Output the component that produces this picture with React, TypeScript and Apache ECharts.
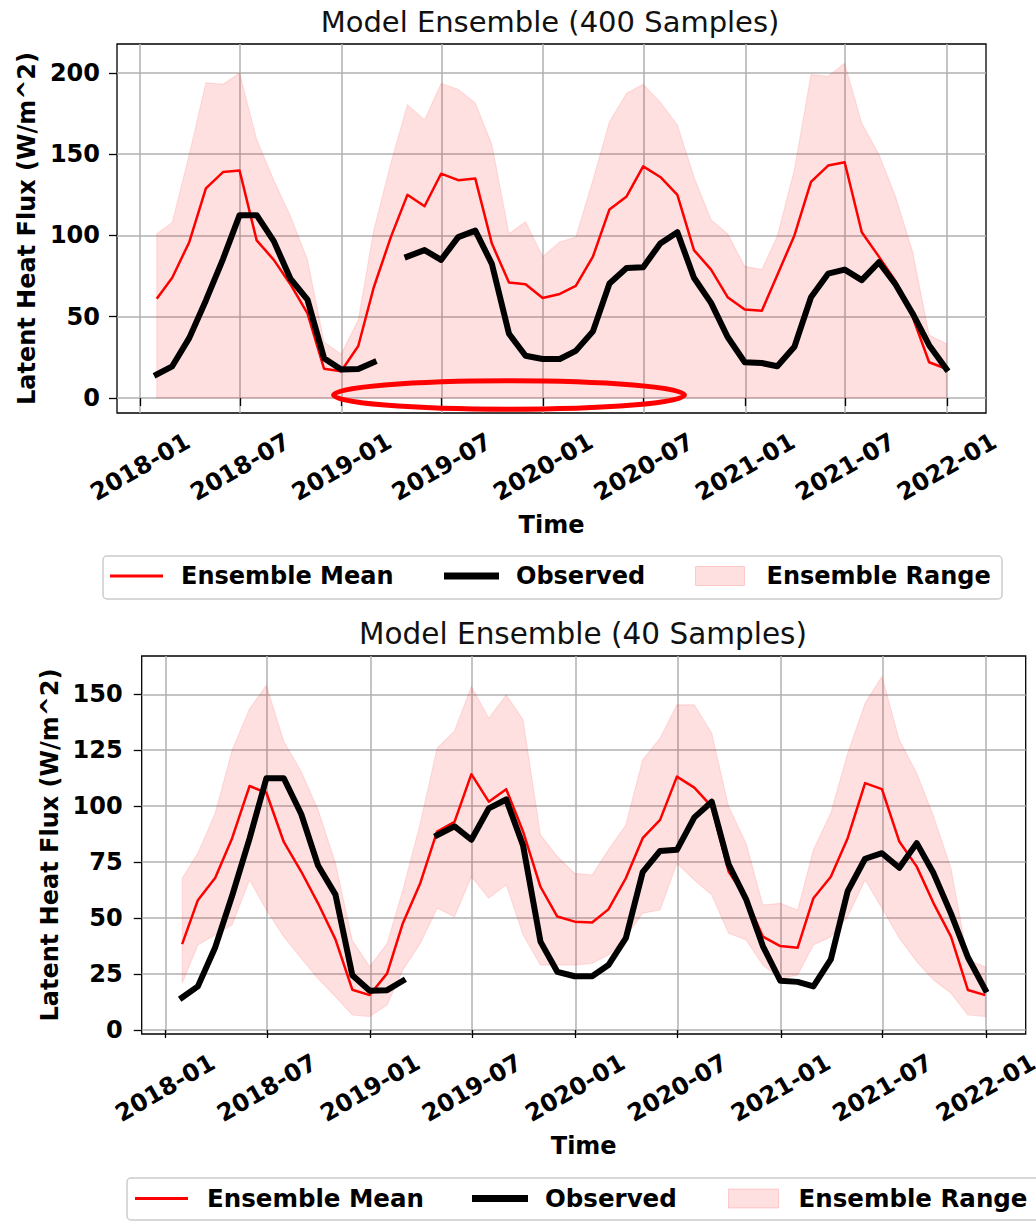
import React, { useEffect, useRef } from "react";
import * as echarts from "echarts";

// ---------- data ----------
const monthEnds = [
  "2018-01-31", "2018-02-28", "2018-03-31", "2018-04-30", "2018-05-31", "2018-06-30",
  "2018-07-31", "2018-08-31", "2018-09-30", "2018-10-31", "2018-11-30", "2018-12-31",
  "2019-01-31", "2019-02-28", "2019-03-31", "2019-04-30", "2019-05-31", "2019-06-30",
  "2019-07-31", "2019-08-31", "2019-09-30", "2019-10-31", "2019-11-30", "2019-12-31",
  "2020-01-31", "2020-02-29", "2020-03-31", "2020-04-30", "2020-05-31", "2020-06-30",
  "2020-07-31", "2020-08-31", "2020-09-30", "2020-10-31", "2020-11-30", "2020-12-31",
  "2021-01-31", "2021-02-28", "2021-03-31", "2021-04-30", "2021-05-31", "2021-06-30",
  "2021-07-31", "2021-08-31", "2021-09-30", "2021-10-31", "2021-11-30", "2021-12-31",
];

const tickDates = [
  "2018-01-01", "2018-07-01", "2019-01-01", "2019-07-01", "2020-01-01",
  "2020-07-01", "2021-01-01", "2021-07-01", "2022-01-01",
];

const observed: (number | null)[] = [
  14.5, 19.5, 37, 60, 85.5, 112.5, 112.5, 96.5, 73.5, 60.5, 24.5, 17.5,
  17.8, 22, null, 87, 91, 85, 99, 103, 82.5, 39.5, 26, 24,
  24, 29, 41, 70.5, 80, 80.5, 95, 102, 74, 58.5, 37.5, 22,
  21.5, 19.5, 31.5, 62, 76.5, 79, 72.5, 83.5, 70, 52, 32.5, 18,
];

// Model ensemble, 400 samples
const mean400 = [
  61, 74, 96, 129, 139, 140, 97, 85, 70, 52, 18, 16.5,
  32, 68, 99, 125, 118, 138, 134, 135, 95, 71, 70, 61.5,
  64, 69, 87, 116, 124, 142.5, 136, 125, 91, 79, 62, 54.5,
  53.7, 75.7, 100, 133, 143, 145, 102, 87, 72, 50, 22, 18,
];
const upper400 = [
  101, 108, 150, 194, 193, 200, 159, 134, 112, 85, 34.5, 27,
  48, 103, 144.5, 180.5, 171, 193.5, 190, 181.5, 156, 101, 108.5, 87,
  96, 99, 134, 170, 187.5, 193, 182, 168, 136, 109.6, 101, 81,
  79, 99.5, 140.6, 199, 198, 206, 169, 150, 124, 90, 38.7, 33.5,
];
const lower400 = [
  0, 0, 0, 0, 0, 0, 0, 0, 0, 0, 0, 0,
  0, 0, 0, 0, 0, 0, 0, 0, 0, 0, 0, 0,
  0, 0, 0, 0, 0, 0, 0, 0, 0, 0, 0, 0,
  0, 0, 0, 0, 0, 0, 0, 0, 0, 0, 0, 0,
];

// Model ensemble, 40 samples
const mean40 = [
  38.4, 58, 68, 85.7, 109, 106, 84, 70.8, 56.6, 40.5, 18, 15.6,
  25.3, 47.7, 65.6, 88.7, 93, 114.3, 102, 107.6, 88.7, 64, 50.7, 48.4,
  48, 53.9, 67.8, 85.7, 93.9, 113.2, 108.3, 99.8, 70.8, 58.9, 41.7, 37.5,
  36.8, 58.9, 68.5, 85.7, 110.3, 107.6, 84.2, 73, 56.6, 41.7, 17.9, 15.6,
];
const upper40 = [
  67.8, 79, 97, 125, 143.5, 154, 128.9, 115.5, 98.4, 74.5, 40, 28.3,
  38.7, 62.6, 92.4, 126, 133.6, 153.5, 139.3, 149.7, 138.6, 87.2, 77.5, 70,
  69.3, 80.5, 91.6, 120.7, 130.4, 145.3, 145.3, 132.6, 99.8, 83.4, 55.9, 56.6,
  53.6, 80.5, 96.9, 123.7, 146, 158, 129.6, 114.7, 95.4, 72.2, 31.3, 28.3,
];
const lower40 = [
  20.9, 38, 42.5, 47, 67, 53.6, 41.7, 32, 23, 14.9, 6.7, 6,
  11.2, 26.8, 38.7, 54.4, 50.6, 68.5, 58.9, 64.9, 42.5, 29, 29, 29,
  29.8, 33.5, 41.7, 52.2, 53.6, 74.5, 67, 60.3, 43.2, 40.2, 29, 23,
  24.6, 38, 41.7, 50.6, 67, 54.4, 41, 30.5, 22.3, 16.4, 6.7, 6,
];

const yTicks400 = [0, 50, 100, 150, 200];
const yTicks40 = [0, 25, 50, 75, 100, 125, 150];

const titles = ["Model Ensemble (400 Samples)", "Model Ensemble (40 Samples)"];
const legendNames = ["Ensemble Mean", "Observed", "Ensemble Range"];

// ---------- helpers ----------
const DAY = 86400000;
const ts = (s: string) => Date.parse(s + "T00:00:00Z");
const xs = monthEnds.map(ts);
const tickTs = tickDates.map(ts);
const xMin = xs[0] - 72 * DAY;
const xMax = xs[xs.length - 1] + 72 * DAY;
const pairs = (arr: (number | null)[]) => arr.map((v, i) => [xs[i], v]);
const fmt = (v: number) => {
  const d = new Date(v);
  return d.getUTCFullYear() + "-" + String(d.getUTCMonth() + 1).padStart(2, "0");
};

const FONT = "DejaVu Sans";
const RED = "#ff0000";
const BAND = "rgba(255,0,0,0.12)";
const BAND_EDGE = "rgba(255,0,0,0.10)";
const GRIDC = "#b0b0b0";

function mkX(idx: number) {
  return {
    type: "value",
    gridIndex: idx,
    min: xMin,
    max: xMax,
    name: "Time",
    nameLocation: "middle",
    nameGap: 100,
    nameTextStyle: { fontFamily: FONT, fontSize: 24, fontWeight: "bold", color: "#000" },
    axisLine: { show: false },
    axisTick: {
      show: true,
      customValues: tickTs,
      length: 8,
      lineStyle: { color: "#000", width: 1.3 },
    },
    axisLabel: {
      show: true,
      customValues: tickTs,
      formatter: (v: number) => fmt(v),
      rotate: 30,
      align: "center",
      verticalAlign: "middle",
      margin: 54,
      fontFamily: FONT,
      fontSize: 24,
      fontWeight: "bold",
      color: "#000",
      hideOverlap: false,
    },
    splitLine: { show: true, lineStyle: { color: GRIDC, width: 1.5 } },
  };
}

function mkY(idx: number, min: number, max: number, ticks: number[], gap: number, margin: number) {
  return {
    type: "value",
    gridIndex: idx,
    min,
    max,
    name: "Latent Heat Flux (W/m^2)",
    nameLocation: "middle",
    nameGap: gap,
    nameTextStyle: { fontFamily: FONT, fontSize: 24, fontWeight: "bold", color: "#000" },
    axisLine: { show: false },
    axisTick: {
      show: true,
      customValues: ticks,
      length: 8,
      lineStyle: { color: "#000", width: 1.3 },
    },
    axisLabel: {
      show: true,
      customValues: ticks,
      margin,
      fontFamily: FONT,
      fontSize: 24,
      fontWeight: "bold",
      color: "#000",
    },
    splitLine: { show: true, lineStyle: { color: GRIDC, width: 1.5 } },
  };
}

function mkSeries(idx: number, mean: number[], upper: number[], lower: number[]) {
  return [
    {
      name: legendNames[2],
      type: "custom",
      coordinateSystem: "cartesian2d",
      xAxisIndex: idx,
      yAxisIndex: idx,
      data: upper.map((u, i) => [xs[i], lower[i], u]),
      encode: { x: 0, y: [1, 2] },
      silent: true,
      itemStyle: { color: BAND },
      z: 1,
      renderItem: (params: any, api: any) => {
        if (params.dataIndex !== 0) return null;
        const top = upper.map((u, i) => api.coord([xs[i], u]));
        const bot = lower.map((l, i) => api.coord([xs[i], l])).reverse();
        return {
          type: "polygon",
          shape: { points: top.concat(bot) },
          style: { fill: BAND, stroke: BAND_EDGE, lineWidth: 1.2 },
        };
      },
    },
    {
      name: legendNames[0],
      type: "line",
      xAxisIndex: idx,
      yAxisIndex: idx,
      data: pairs(mean),
      symbol: "none",
      silent: true,
      lineStyle: { color: RED, width: 2.5, join: "round" },
      itemStyle: { color: RED },
      z: 2,
    },
    {
      name: legendNames[1],
      type: "line",
      xAxisIndex: idx,
      yAxisIndex: idx,
      data: pairs(observed),
      connectNulls: false,
      symbol: "none",
      silent: true,
      lineStyle: { color: "#000", width: 6, join: "round", cap: "square" },
      itemStyle: { color: "#000" },
      z: 3,
    },
  ];
}

function mkLegend(name: string, left: number, top: number, w: number, h: number, color: string, border: string | null, pad: number, fs: number) {
  return {
    show: true,
    orient: "horizontal",
    left,
    top,
    padding: 0,
    itemGap: 0,
    itemWidth: w,
    itemHeight: h,
    icon: "rect",
    selectedMode: false,
    data: [
      {
        name,
        itemStyle: border
          ? { color, borderColor: border, borderWidth: 1 }
          : { color, borderWidth: 0 },
      },
    ],
    textStyle: {
      fontFamily: FONT,
      fontSize: fs,
      fontWeight: "bold",
      color: "#000",
      padding: [0, 0, 0, pad],
    },
  };
}

export default function App() {
  const ref = useRef<HTMLDivElement>(null);
  useEffect(() => {
    if (!ref.current) return;
    const chart = echarts.init(ref.current, null, { renderer: "svg" });
    const option: any = {
      animation: false,
      backgroundColor: "#ffffff",
      grid: [
        {
          left: 117, top: 44, width: 869, height: 369,
          show: true, borderColor: "#000", borderWidth: 1.3,
          backgroundColor: "transparent", containLabel: false, outerBoundsMode: "none",
        },
        {
          left: 141.7, top: 656, width: 884, height: 378,
          show: true, borderColor: "#000", borderWidth: 1.3,
          backgroundColor: "transparent", containLabel: false, outerBoundsMode: "none",
        },
      ],
      xAxis: [mkX(0), mkX(1)],
      yAxis: [
        mkY(0, -9.23, 217.8, yTicks400, 76, 17),
        mkY(1, -1.79, 167.1, yTicks40, 78, 19),
      ],
      legend: [
        mkLegend(legendNames[0], 110, 564, 53, 3, RED, null, 13, 24),
        mkLegend(legendNames[1], 444, 564, 55, 7, "#000", null, 12, 24),
        mkLegend(legendNames[2], 695, 564, 49, 19, BAND, "rgba(255,0,0,0.16)", 17, 24),
        mkLegend(legendNames[0], 135, 1186, 53, 3, RED, null, 14, 24.5),
        mkLegend(legendNames[1], 472, 1186, 56, 7, "#000", null, 12, 24.5),
        mkLegend(legendNames[2], 728, 1186, 50, 19, BAND, "rgba(255,0,0,0.16)", 15, 24.5),
      ],
      graphic: [
        {
          type: "rect",
          z: 0,
          shape: { x: 103, y: 556, width: 899, height: 43, r: 4 },
          style: { fill: "#ffffff", stroke: "#cccccc", lineWidth: 1.5 },
        },
        {
          type: "rect",
          z: 0,
          shape: { x: 127, y: 1178, width: 960, height: 42, r: 4 },
          style: { fill: "#ffffff", stroke: "#cccccc", lineWidth: 1.5 },
        },
        {
          type: "text",
          x: 550,
          y: 22,
          style: {
            text: titles[0],
            fontFamily: FONT,
            fontSize: 29,
            fontWeight: "normal",
            fill: "#111",
            align: "center",
            verticalAlign: "middle",
          },
        },
        {
          type: "text",
          x: 583,
          y: 634,
          style: {
            text: titles[1],
            fontFamily: FONT,
            fontSize: 29.5,
            fontWeight: "normal",
            fill: "#111",
            align: "center",
            verticalAlign: "middle",
          },
        },
        {
          type: "ellipse",
          z: 100,
          shape: { cx: 509, cy: 395, rx: 175.5, ry: 14.3 },
          style: { fill: "transparent", stroke: RED, lineWidth: 5 },
        },
      ],
      series: [
        ...mkSeries(0, mean400, upper400, lower400),
        ...mkSeries(1, mean40, upper40, lower40),
      ],
    };
    chart.setOption(option);
    return () => chart.dispose();
  }, []);
  return (
    <div
      ref={ref}
      style={{ position: "absolute", left: 0, top: 0, width: 1036, height: 1221 }}
    />
  );
}
